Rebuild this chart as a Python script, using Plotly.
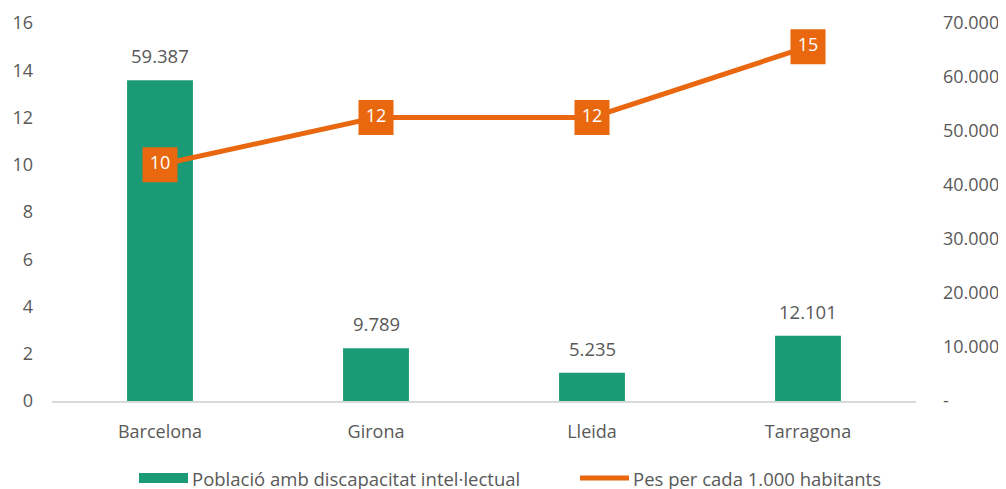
import plotly.graph_objects as go

categories = ["Barcelona", "Girona", "Lleida", "Tarragona"]
poblacio = [59387, 9789, 5235, 12101]
pes = [10, 12, 12, 15]
right_ticks = [0, 10000, 20000, 30000, 40000, 50000, 60000, 70000]
right_ticktext = ["-", "10.000", "20.000", "30.000", "40.000", "50.000", "60.000", "70.000"]
left_ticks = [0, 2, 4, 6, 8, 10, 12, 14, 16]
name_bar = "Població amb discapacitat intel·lectual"
name_line = "Pes per cada 1.000 habitants"

GREEN = "#1B9A77"
ORANGE = "#E8670F"
GREY = "#595959"
FONT = "Open Sans, sans-serif"

# page body adds an 8px offset; compensate so the visible layout matches
OFF = 8
W, H = 1006, 489
L, T = 52 - OFF, 23 - OFF
PW, PH = 864, 378
R = W - L - PW
B = H - T - PH


def px(x):
    return (x - OFF - L) / PW


def py(y):
    return (T + PH - (y - OFF)) / PH


fig = go.Figure()
fig.add_trace(go.Bar(
    x=categories, y=poblacio, yaxis="y",
    name=name_bar, showlegend=False,
    marker=dict(color=GREEN, line=dict(width=0)),
    width=0.305,
))
fig.add_trace(go.Scatter(
    x=categories, y=pes, yaxis="y2",
    name=name_line, showlegend=False,
    mode="lines+markers+text",
    line=dict(color=ORANGE, width=5),
    marker=dict(symbol="square", size=35, color=ORANGE),
    text=[str(v) for v in pes], textposition="middle center",
    textfont=dict(size=18, color="white", family=FONT),
    cliponaxis=False,
))

annotations = []
for c, v in zip(categories, poblacio):
    annotations.append(dict(
        x=c, y=v, xref="x", yref="y", text=f"{v:,}".replace(",", "."),
        showarrow=False, yanchor="bottom", yshift=10,
        font=dict(size=18.5, color=GREY, family=FONT),
    ))

annotations.append(dict(x=px(190), y=py(478), xref="paper", yref="paper", text=name_bar,
                        showarrow=False, xanchor="left", yanchor="middle",
                        font=dict(size=18.5, color=GREY, family=FONT)))
annotations.append(dict(x=px(631), y=py(478), xref="paper", yref="paper", text=name_line,
                        showarrow=False, xanchor="left", yanchor="middle",
                        font=dict(size=18.5, color=GREY, family=FONT)))
shapes = [
    dict(type="rect", xref="paper", yref="paper", x0=px(139), x1=px(188), y0=py(483), y1=py(473),
         fillcolor=GREEN, line=dict(width=0)),
    dict(type="line", xref="paper", yref="paper", x0=px(580), x1=px(629), y0=py(478), y1=py(478),
         line=dict(color=ORANGE, width=5)),
]

fig.update_layout(
    width=W, height=H,
    margin=dict(l=L, r=R, t=T, b=B, autoexpand=False),
    plot_bgcolor="white", paper_bgcolor="white",
    font=dict(family=FONT, color=GREY, size=18),
    showlegend=False,
    annotations=annotations,
    shapes=shapes,
    xaxis=dict(showgrid=False, showline=True, linecolor="#D9D9D9", linewidth=2,
               ticks="", tickfont=dict(size=18, color=GREY), automargin=False,
               ticklabelstandoff=13),
    yaxis=dict(range=[0, 70000], side="right", tickvals=right_ticks,
               ticktext=right_ticktext, showgrid=False, zeroline=False, showline=False,
               ticks="", tickfont=dict(size=18, color=GREY), automargin=False,
               ticklabelstandoff=26),
    yaxis2=dict(range=[0, 16], overlaying="y", side="left", tickvals=left_ticks,
                showgrid=False, zeroline=False, showline=False, ticks="",
                tickfont=dict(size=18, color=GREY), automargin=False,
                ticklabelstandoff=18),
)

fig.write_html("out.html")
